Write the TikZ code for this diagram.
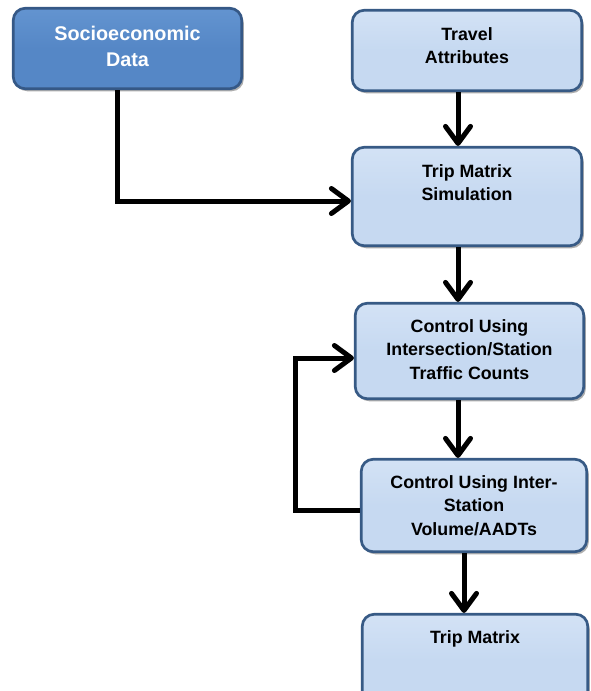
\documentclass[tikz,border=0pt]{standalone}
\usepackage{fontspec}
\setmainfont{Liberation Sans}
\usetikzlibrary{arrows.meta,shadows}
\definecolor{boxfill}{HTML}{C6D9F1}
\definecolor{boxtop}{HTML}{D3E2F5}
\definecolor{boxedge}{HTML}{375A85}
\definecolor{darkfill}{HTML}{5587C6}
\definecolor{darktop}{HTML}{6394D0}
\definecolor{darkedge}{HTML}{355886}
\begin{document}
\begin{tikzpicture}[x=1pt,y=-1pt,
  boxbase/.style={line width=2.7pt, rounded corners=12pt, inner sep=0pt,
    drop shadow={shadow xshift=2pt,shadow yshift=-2.5pt,opacity=0.45,fill=black!70}},
  lightbox/.style={boxbase, draw=boxedge, top color=boxtop, bottom color=boxfill, middle color=boxfill},
  darkbox/.style={boxbase, draw=darkedge, top color=darktop, bottom color=darkfill, middle color=darkfill},
  lbl/.style={anchor=north, inner sep=0pt, align=center, font=\bfseries\fontsize{17.8}{23.5}\selectfont, text=black},
  wlbl/.style={anchor=north, inner sep=0pt, align=center, font=\bfseries\fontsize{19.8}{26}\selectfont, text=white},
  conn/.style={line width=5pt, draw=black},
  arr/.style={conn, -{Straight Barb[length=17pt,width=25pt,round]}}
]
\useasboundingbox (0,0) rectangle (591,691);
\clip (0,0) rectangle (591,691);

\node[darkbox, minimum width=228.5pt, minimum height=80.5pt,
  label={[wlbl, yshift=-19.5pt]north:Socioeconomic\\Data}] (socio) at (127.5,48.5) {};
\node[lightbox, minimum width=229.5pt, minimum height=80.5pt,
  label={[lbl, yshift=-18pt]north:Travel\\Attributes}] (travel) at (467,50.5) {};
\node[lightbox, minimum width=229.5pt, minimum height=98.5pt,
  label={[lbl, yshift=-18pt]north:Trip Matrix\\Simulation}] (trip) at (467,196.5) {};
\node[lightbox, minimum width=228.5pt, minimum height=95.5pt,
  label={[lbl, yshift=-17pt]north:Control Using\\Intersection/Station\\Traffic Counts}] (ctrlA) at (469.5,351) {};
\node[lightbox, minimum width=225.5pt, minimum height=92.5pt,
  label={[lbl, yshift=-17pt]north:Control Using Inter-\\Station\\Volume/AADTs}] (ctrlB) at (474,505.5) {};
\node[lightbox, minimum width=225.5pt, minimum height=92.5pt,
  label={[lbl, yshift=-17pt]north:Trip Matrix}] (tm) at (475,660.5) {};

\coordinate (c1) at (458,0);
\coordinate (c2) at (464,0);
\coordinate (bend1) at (117,201);
\coordinate (l1) at (295,510);
\coordinate (l2) at (295,358);

\draw[arr] (travel.south -| c1) -- (trip.north -| c1);
\draw[arr] (socio.south -| bend1) -- (bend1) -- (bend1 -| trip.west);
\draw[arr] (trip.south -| c1) -- (ctrlA.north -| c1);
\draw[arr] (ctrlA.south -| c1) -- (ctrlB.north -| c1);
\draw[arr] (ctrlB.west |- l1) -- (l1) -- (l2) -- (l2 -| ctrlA.west);
\draw[arr] (ctrlB.south -| c2) -- (tm.north -| c2);
\end{tikzpicture}
\end{document}
